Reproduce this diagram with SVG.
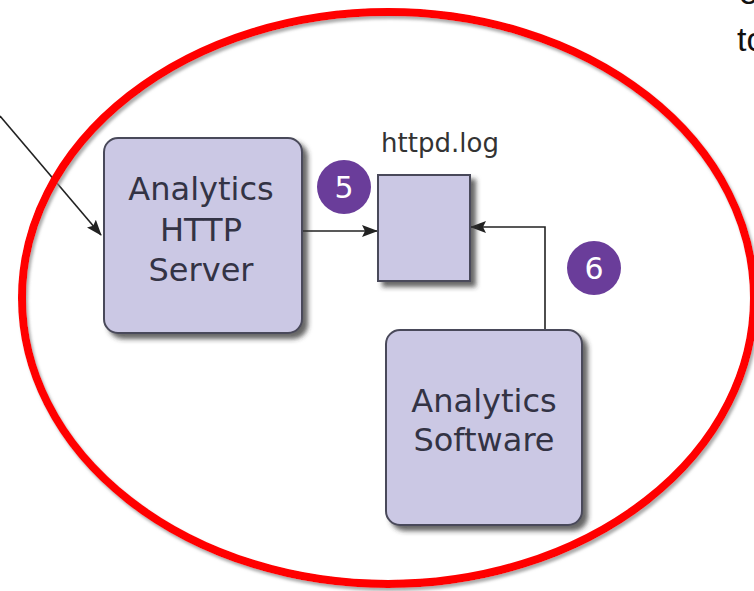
<svg xmlns="http://www.w3.org/2000/svg" width="754" height="591" viewBox="0 0 754 591">
<style>
.box{fill:#CBC8E4;stroke:#4A4A5A;stroke-width:2}
.lbl{font-family:"DejaVu Sans",Verdana,sans-serif;font-size:32px;fill:#333344;text-anchor:middle}
.num{font-family:"DejaVu Sans",Verdana,sans-serif;font-size:30px;fill:#ffffff;text-anchor:middle}
.badge{fill:#6A3D9A}
.conn{fill:none;stroke:#222;stroke-width:1.6}
</style>
<defs>
<filter id="sh" x="-20%" y="-20%" width="140%" height="140%">
<feDropShadow dx="5" dy="5" stdDeviation="2.5" flood-color="#333" flood-opacity="0.75"/>
</filter>
<filter id="rsh" x="-5%" y="-5%" width="110%" height="110%">
<feDropShadow dx="2" dy="3" stdDeviation="1.5" flood-color="#888" flood-opacity="0.7"/>
</filter>
<marker id="ah" markerWidth="16" markerHeight="12" refX="15" refY="6" orient="auto" markerUnits="userSpaceOnUse">
<path d="M0,0 L16,6 L0,12 L3,6 Z" fill="#222"/>
</marker>
</defs>
<rect width="754" height="591" fill="#ffffff"/>
<text x="737" y="51" font-family="Liberation Sans,Arial,sans-serif" font-size="34" fill="#111">to</text>
<text x="739" y="4" font-family="Liberation Sans,Arial,sans-serif" font-size="34" fill="#111">e</text>
<g id="connectors">
<path class="conn" d="M0,116 L101,235" marker-end="url(#ah)"/>
<path class="conn" d="M303,231 L377,231" marker-end="url(#ah)"/>
<path class="conn" d="M545,330 L545,227 L471,227" marker-end="url(#ah)"/>
</g>
<g id="server">
<rect class="box" x="104" y="138" width="198" height="195" rx="14" filter="url(#sh)"/>
<text class="lbl" x="201" y="200">Analytics</text>
<text class="lbl" x="201" y="241">HTTP</text>
<text class="lbl" x="201" y="281">Server</text>
</g>
<g id="httpdlog">
<text x="440" y="152" font-family="DejaVu Sans,Verdana,sans-serif" font-size="26" fill="#333" text-anchor="middle">httpd.log</text>
<rect class="box" x="378" y="175" width="92" height="106" filter="url(#sh)"/>
</g>
<g id="badge5">
<circle class="badge" cx="344" cy="187" r="27"/>
<text class="num" x="344" y="198">5</text>
</g>
<g id="badge6">
<circle class="badge" cx="594" cy="268" r="27"/>
<text class="num" x="594" y="279">6</text>
</g>
<g id="software">
<rect class="box" x="386" y="330" width="196" height="195" rx="14" filter="url(#sh)"/>
<text class="lbl" x="484" y="412">Analytics</text>
<text class="lbl" x="484" y="451">Software</text>
</g>
<ellipse cx="388" cy="298" rx="366" ry="286" fill="none" stroke="#FF0000" stroke-width="8" filter="url(#rsh)"/>
</svg>
